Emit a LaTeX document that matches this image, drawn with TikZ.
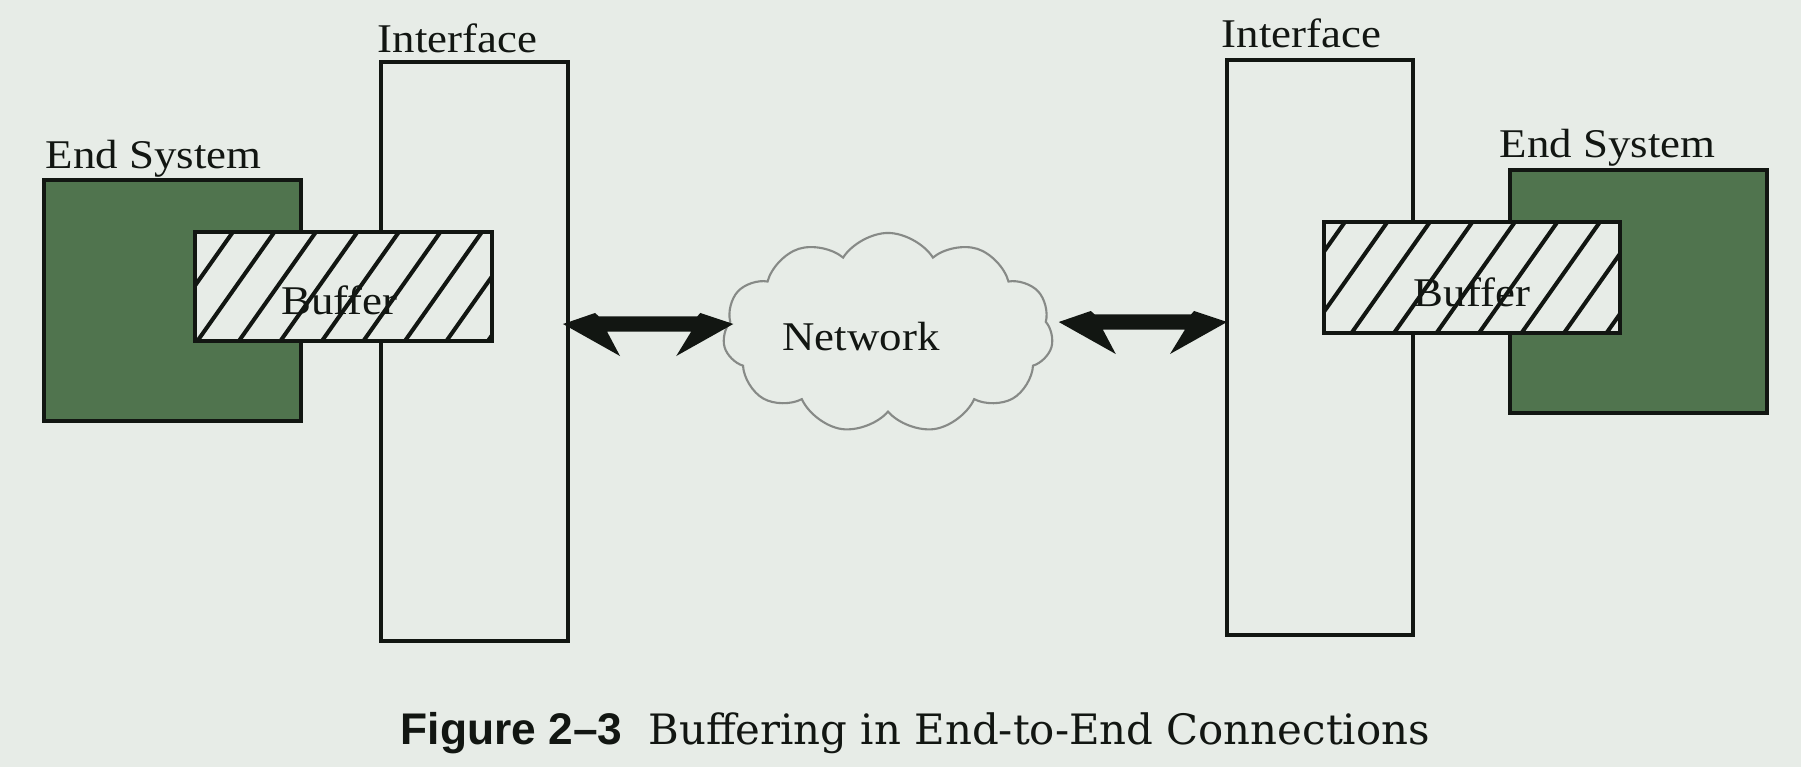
\documentclass[tikz,border=0pt]{standalone}
\usepackage{fontspec}
\setmainfont{Liberation Serif}
\newfontfamily\diafont{Liberation Serif}[FakeStretch=1.1]
\newfontfamily\capserif{DejaVu Serif}
\newfontfamily\capsans{Liberation Sans}
\usetikzlibrary{calc,shapes.symbols}
\definecolor{bg}{RGB}{231,236,231}
\definecolor{esgreen}{RGB}{80,116,78}
\definecolor{ink}{RGB}{18,22,18}
\definecolor{cloudgray}{RGB}{135,138,135}
\def\pxu{0.28453pt}
\tikzset{
  lbl/.style={font=\fontsize{11.6}{13}\selectfont\diafont, text=ink, inner sep=0pt, anchor=base west},
  endsys/.style={draw=ink, fill=esgreen, line width=1.3pt, inner sep=0pt},
  iface/.style={draw=ink, line width=1.1pt, inner sep=0pt},
  bufbox/.style={draw=ink, fill=bg, line width=1.2pt, inner sep=0pt},
  hatch/.style 2 args={path picture={
    \foreach \k in {0,...,9} {
      \draw[ink, line width=1.15pt]
        ($(path picture bounding box.north west)+(#1+\k*#2+7.7,-10.9)$) -- ++(-92.4,130.8);
    }}},
  netcloud/.style={cloud, cloud puffs=11, cloud puff arc=115, draw=cloudgray, fill=bg,
    line width=0.6pt, minimum width=3.3cm, minimum height=2cm, cloud ignores aspect, inner sep=0pt},
  fat/.style={fill=ink, to path={let \p1=(\tikztostart), \p2=(\tikztotarget) in
    -- (\x1+32*\pxu,\y1+11*\pxu) -- (\x1+36*\pxu,\y1+7.5*\pxu)
    -- (\x2-36*\pxu,\y2+7.5*\pxu) -- (\x2-33*\pxu,\y2+11*\pxu)
    -- (\x2,\y2) -- (\x2-57*\pxu,\y2-32*\pxu) -- (\x2-42*\pxu,\y2-7.5*\pxu)
    -- (\x1+44*\pxu,\y1-7.5*\pxu) -- (\x1+57*\pxu,\y1-32*\pxu) -- cycle}}
}
\begin{document}
\begin{tikzpicture}[x=0.01cm,y=-0.01cm]
\useasboundingbox (0,0) rectangle (1801,767);
\fill[bg] (0,0) rectangle (1801,767);

% left side
\node[endsys, minimum width=2.57cm, minimum height=2.41cm] (esL) at (172.5,300.5) {};
\node[iface, minimum width=1.87cm, minimum height=5.79cm] (ifL) at (474.5,351.5) {};
\node[bufbox, hatch={38}{41.5}, minimum width=2.97cm, minimum height=1.09cm] (bufL) at (343.5,286.5) {};
\node[lbl, anchor=center] (bufLt) at ($(bufL.center)+(-4,14)$) {Buffer};
\node[lbl] (esLt) at (45,169) {End System};
\node[lbl] (ifLt) at (377,53) {Interface};

% right side
\node[endsys, minimum width=2.57cm, minimum height=2.43cm] (esR) at (1638.5,291.5) {};
\node[iface, minimum width=1.86cm, minimum height=5.75cm] (ifR) at (1320,347.5) {};
\node[bufbox, hatch={21}{42.5}, minimum width=2.96cm, minimum height=1.11cm] (bufR) at (1472,277.5) {};
\node[lbl, anchor=center] (bufRt) at ($(bufR.center)+(0,15)$) {Buffer};
\node[lbl] (esRt) at (1499,157) {End System};
\node[lbl] (ifRt) at (1221,48) {Interface};

% network
\node[netcloud] (net) at (888,333) {};
\node[lbl, anchor=center] (netlbl) at (861,337) {Network};

% arrows
\coordinate (yl) at (0,324);
\coordinate (yr) at (0,322);
\path[fat] ($(ifL.east |- yl)+(-7,0)$) to ($(net.west |- yl)+(10,0)$);
\path[fat] ($(net.east |- yr)+(6,0)$) to ($(ifR.west |- yr)+(2,0)$);

% caption
\node[anchor=base west, inner sep=0pt, text=ink] (cap) at (400,744)
  {{\fontsize{12.6}{14}\selectfont\capsans\bfseries Figure 2–3}\hspace{7.4pt}{\fontsize{11.9}{14}\selectfont\capserif Buffering in End-to-End Connections}};
\end{tikzpicture}
\end{document}
